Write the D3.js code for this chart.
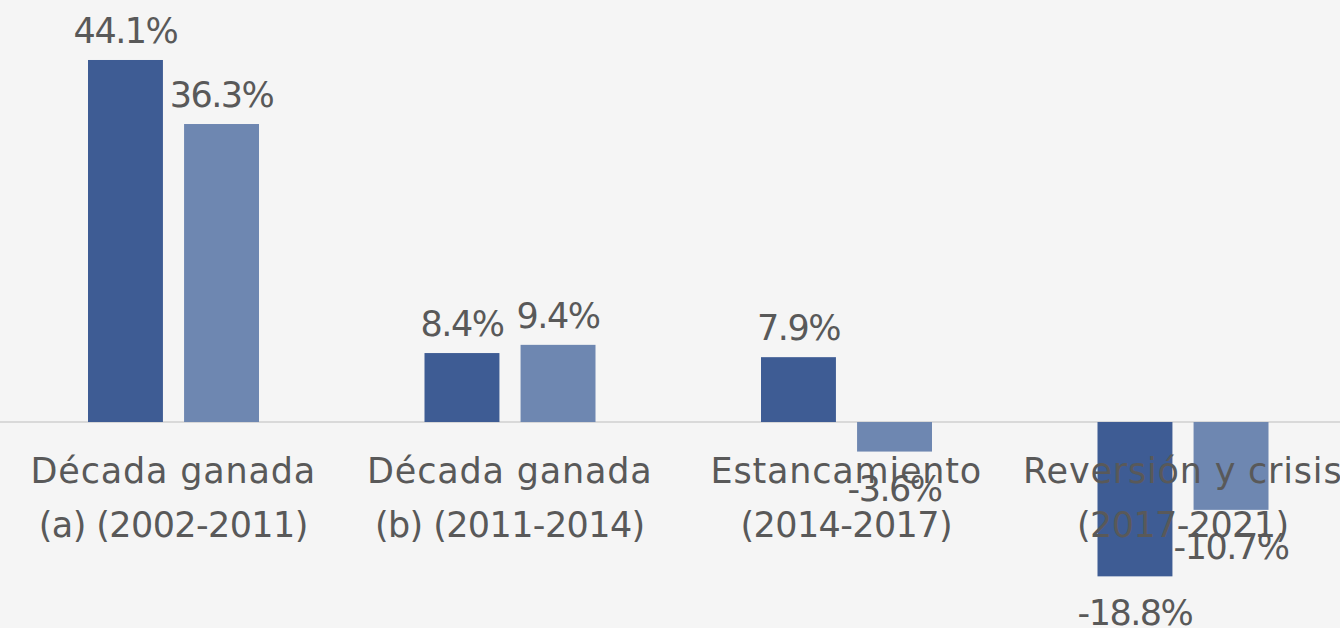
<!DOCTYPE html>
<html>
<head>
<meta charset="utf-8">
<script src="https://cdn.jsdelivr.net/npm/d3@7"></script>
<style>
  body { margin:0; background:#f5f5f5; }
  svg text { font-family:"DejaVu Sans", sans-serif; fill:#595959; }
</style>
</head>
<body>
<div id="chart"></div>
<script>
// periods (two-line labels)
var categories = [
    ["Década ganada", "(a) (2002-2011)"],
    ["Década ganada", "(b) (2011-2014)"],
    ["Estancamiento", "(2014-2017)"],
    ["Reversión y crisis", "(2017-2021)"]
]
var seriesNames = ["serieA", "serieB"]
var seriesA = [44.1, 8.4, 7.9, -18.8]
var seriesB = [36.3, 9.4, -3.6, -10.7]

var width = 1340, height = 628
var colors = {serieA:"#3e5c94", serieB:"#6e87b1"}

//build rows for the join
var rows = []
categories.forEach((c,i)=>{
    rows.push({cat:i, key:"serieA", value:seriesA[i]})
    rows.push({cat:i, key:"serieB", value:seriesB[i]})
})

var svg = d3.select('#chart')
    .append('svg')
    .attr('width', width)
    .attr('height', height)

svg.append('rect')
    .attr('width', width)
    .attr('height', height)
    .attr('fill', '#f5f5f5')

//Scales
var x0 = d3.scaleBand()
    .domain(d3.range(categories.length))
    .range([5, 1351])

var x1 = d3.scaleBand()
    .domain(seriesNames)
    .range([83, 254])
    .paddingInner(0.22)

var y = d3.scaleLinear()
    .domain([-20, 45])
    .range([586.2, 52.6])

//zero line
svg.append('line')
    .attr('x1', 0)
    .attr('x2', width)
    .attr('y1', y(0))
    .attr('y2', y(0))
    .attr('stroke', '#d9d9d9')
    .attr('stroke-width', 2)

//bars
svg.append('g')
    .selectAll('rect')
    .data(rows)
    .enter()
    .append('rect')
    .attr('x', d=> x0(d.cat) + x1(d.key))
    .attr('width', x1.bandwidth())
    .attr('y', d=> y(Math.max(0, d.value)))
    .attr('height', d=> Math.abs(y(d.value) - y(0)))
    .attr('fill', d=> colors[d.key])

//category labels (drawn over the bars, like the original)
var catLabels = svg.append('g')
    .selectAll('text')
    .data(categories)
    .enter()
    .append('text')
    .attr('text-anchor', 'middle')
    .attr('font-size', 35)

catLabels.append('tspan')
    .attr('x', (d,i)=> x0(i) + x0.bandwidth()/2)
    .attr('y', 483)
    .attr('letter-spacing', 0.8)
    .text(d=>d[0])
catLabels.append('tspan')
    .attr('x', (d,i)=> x0(i) + x0.bandwidth()/2)
    .attr('y', 537)
    .attr('letter-spacing', -0.6)
    .text(d=>d[1])

//value labels
svg.append('g')
    .selectAll('text')
    .data(rows)
    .enter()
    .append('text')
    .attr('text-anchor', 'middle')
    .attr('font-size', 35)
    .attr('letter-spacing', -1.5)
    .attr('x', d=> x0(d.cat) + x1(d.key) + x1.bandwidth()/2)
    .attr('y', d=> d.value >= 0 ? y(d.value) - 17 : y(d.value) + 49)
    .text(d=> d.value.toFixed(1) + '%')
</script>
</body>
</html>
